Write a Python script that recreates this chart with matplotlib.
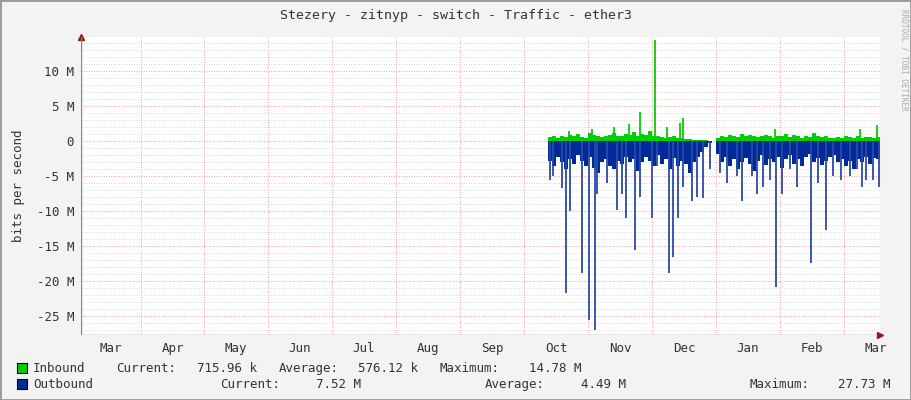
import numpy as np
import matplotlib.pyplot as plt
from matplotlib.patches import Rectangle

plt.rcParams["font.family"] = ["DejaVu Sans Mono"]

# x units: pixel columns of the rrdtool canvas, data starts at 548 with step 4
months = ["Mar", "Apr", "May", "Jun", "Jul", "Aug", "Sep", "Oct", "Nov", "Dec", "Jan", "Feb", "Mar"]
month_lines = [141, 204, 268, 332, 396, 460, 524, 588, 652, 716, 780, 844]
x_start, x_step = 548, 4

inbound = [0.6, 0.7, 0.5, 0.8, 0.6, 0.9, 0.7, 1.0, 0.6, 0.5,
           1.2, 0.9, 0.8, 0.6, 0.7, 0.9, 1.1, 0.8, 0.7, 1.0,
           0.9, 1.3, 0.8, 1.0, 0.9, 1.4, 0.8, 0.7, 0.6, 0.5,
           0.6, 0.8, 0.5, 0.4, 0.3, 0.3, 0.2, 0.2, 0.2, 0.1,
           0.05, 0, 0.5, 0.7, 0.6, 0.9, 0.8, 0.6, 1.0, 0.7,
           0.9, 0.8, 0.6, 0.7, 0.9, 0.8, 0.5, 0.8, 0.7, 1.0,
           0.6, 0.9, 0.7, 0.5, 0.8, 0.6, 1.1, 0.8, 0.6, 0.7,
           0.5, 0.4, 0.6, 0.5, 0.7, 0.6, 0.5, 0.8, 0.5, 0.6,
           0.6, 0.5, 0.6, 1.0]
outbound = [-2.8, -3.5, -2.2, -3.0, -4.0, -2.5, -3.2, -2.0, -2.8, -3.5,
            -2.2, -3.8, -4.5, -3.0, -2.5, -3.5, -4.0, -2.8, -3.2, -2.2,
            -3.0, -2.5, -4.2, -3.0, -2.2, -2.8, -3.5, -2.0, -3.2, -2.6,
            -4.0, -2.4, -3.6, -2.8, -3.2, -4.5, -3.0, -2.2, -1.5, -0.8,
            -0.3, 0, -1.8, -3.0, -2.2, -3.5, -2.6, -4.0, -3.0, -2.4,
            -3.2, -4.2, -2.8, -2.0, -3.4, -2.6, -3.0, -2.2, -3.8, -2.5,
            -2.0, -3.2, -2.6, -3.6, -2.2, -1.8, -3.0, -2.4, -3.4, -2.8,
            -2.2, -2.0, -3.0, -2.5, -3.6, -2.8, -4.0, -2.6, -3.0, -2.2,
            -3.2, -2.4, -2.6, -3.5]

in_spike_x = [569, 592, 614, 629, 640, 655, 667, 680, 683, 775, 860, 877]
in_spike_v = [1.5, 1.8, 2.0, 2.4, 4.1, 14.4, 2.0, 2.6, 3.3, 1.8, 1.7, 2.3]
out_spike_x = [550, 553, 562, 566, 570, 582, 589, 595, 597, 607, 617, 622, 626, 635, 640,
               652, 657, 669, 673, 678, 683, 692, 697, 703, 710, 720, 727, 737, 742, 752,
               757, 763, 770, 776, 782, 790, 797, 811, 818, 826, 833, 841, 850, 857, 862, 866, 873, 879]
out_spike_v = [-5.6, -5.0, -6.7, -21.7, -10.0, -18.9, -25.6, -27.0, -7.5, -6.0, -9.9, -7.5, -11.0, -15.6, -8.0,
               -11.0, -3.5, -18.9, -16.6, -11.0, -6.5, -8.5, -8.0, -8.2, -4.0, -4.5, -6.0, -5.0, -8.5, -5.0,
               -7.5, -6.5, -5.5, -20.8, -7.5, -4.0, -6.5, -17.4, -6.0, -12.7, -5.0, -5.5, -5.0, -4.0, -6.5, -5.5, -5.5, -6.5]

# legend rows: (text, x pixel)
legend_in = [("Inbound", 33), ("Current:", 116), ("715.96 k", 197), ("Average:", 279),
             ("576.12 k", 358), ("Maximum:", 440), ("14.78 M", 529)]
legend_out = [("Outbound", 33), ("Current:", 220), ("7.52 M", 316), ("Average:", 485),
              ("4.49 M", 581), ("Maximum:", 750), ("27.73 M", 838)]

FG = "#333333"
fig = plt.figure(figsize=(9.11, 4.0), dpi=100, facecolor="#F3F3F3")
W, H = 911, 400
ax = fig.add_axes([81 / W, 1 - 335 / H, (880 - 81) / W, (335 - 37) / H])
ax.set_facecolor("white")

xs = x_start + x_step * np.arange(len(inbound))
ax.fill_between(xs, 0, inbound, step="post", color="#00CF00", lw=0, zorder=3)
ax.fill_between(xs, 0, outbound, step="post", color="#002A97", lw=0, zorder=3)
ax.vlines(in_spike_x, 0, in_spike_v, color="#00CF00", lw=1.3, zorder=3)
ax.vlines(out_spike_x, 0, out_spike_v, color="#2A4AA8", lw=1.3, zorder=3)

ax.set_xlim(81, 880)
ax.set_ylim(-27.73, 14.9)

# grid
for v in range(-27, 15):
    if v % 5:
        ax.axhline(v, color="#CCCCCC", lw=0.6, ls=(0, (1, 2)), zorder=1)
for v in range(-25, 15, 5):
    ax.axhline(v, color="#F08080", lw=0.6, ls=(0, (1, 2)), zorder=1)
for x in month_lines:
    ax.axvline(x, color="#F08080", lw=0.6, ls=(0, (1, 2)), zorder=1)

ax.set_yticks(range(-25, 15, 5))
ax.set_yticklabels([f"{v} M" if v else "0" for v in range(-25, 15, 5)], fontsize=9, color=FG)
mids = [81 + 30] + [x + 32 for x in month_lines]
ax.set_xticks(mids)
ax.set_xticklabels(months, fontsize=9, color=FG)
ax.tick_params(length=0, pad=5)
for s in ax.spines.values():
    s.set_visible(False)
ax.axhline(-27.73, color="#888888", lw=1, zorder=4)
ax.axvline(81, color="#888888", lw=1, zorder=4)
ax.plot([1], [0], transform=ax.transAxes, marker=">", color="#8B1A1A", ms=5, clip_on=False)
ax.plot([0], [1], transform=ax.transAxes, marker="^", color="#8B1A1A", ms=4, clip_on=False)
ax.set_ylabel("bits per second", fontsize=9, color=FG, labelpad=8)

fig.text(456 / W, 1 - 15 / H, "Stezery - zitnyp - switch - Traffic - ether3", ha="center", va="center", fontsize=9.5, color=FG)
fig.text(904 / W, 1 - 60 / H, "RRDTOOL / TOBI OETIKER", rotation=270, ha="center", va="center", fontsize=5.5, color="#AAAAAA")

fig.patches.append(Rectangle((17 / W, 1 - 373 / H), 10 / W, 10 / H, transform=fig.transFigure, facecolor="#00CF00", edgecolor="black", lw=0.8))
fig.patches.append(Rectangle((17 / W, 1 - 389 / H), 10 / W, 10 / H, transform=fig.transFigure, facecolor="#002A97", edgecolor="black", lw=0.8))
for row, ty in ((legend_in, 1 - 372 / H), (legend_out, 1 - 388 / H)):
    for txt, px in row:
        fig.text(px / W, ty, txt, va="baseline", fontsize=9, color=FG)

# outer frame like rrdtool
fig.patches.append(Rectangle((0, 0), 1, 1, transform=fig.transFigure, fill=False, edgecolor="#999999", lw=2))

fig.savefig("out.png", dpi=100, facecolor=fig.get_facecolor())
